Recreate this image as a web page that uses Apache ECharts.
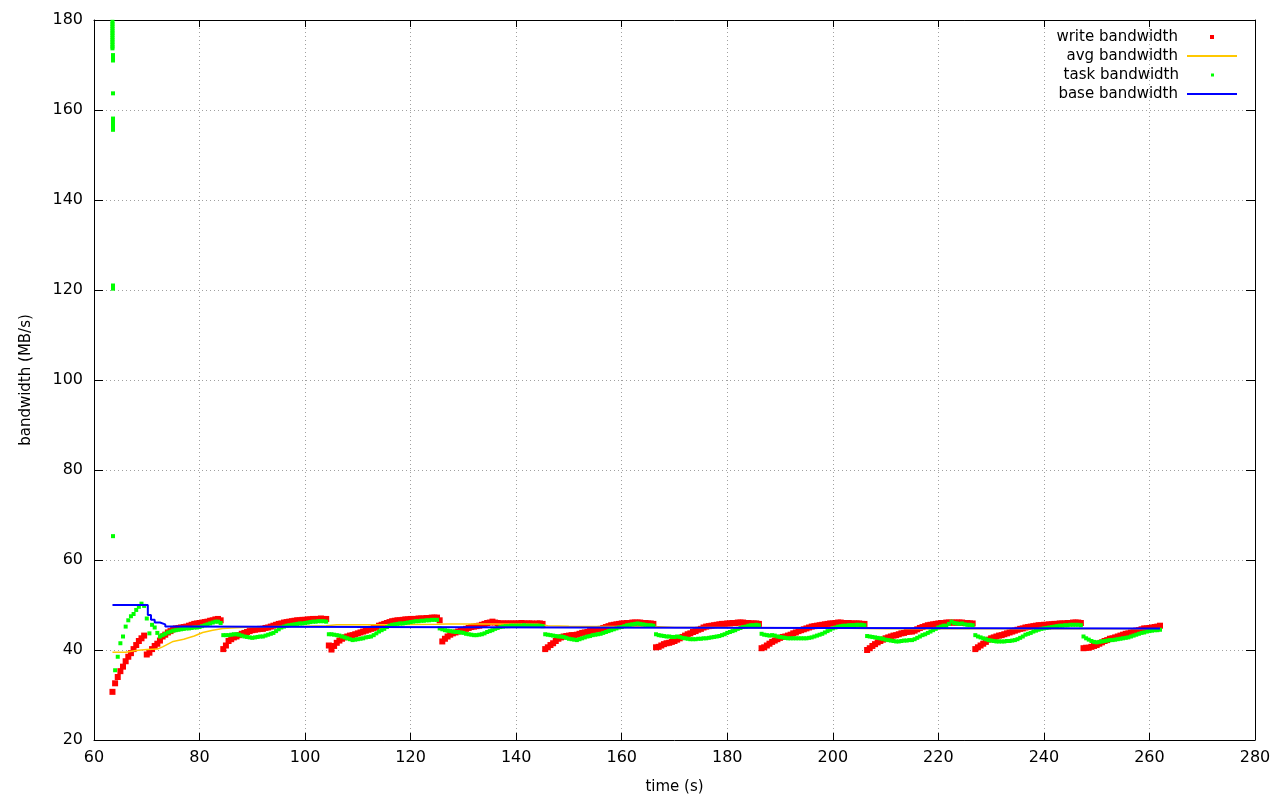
<!DOCTYPE html>
<html>
<head>
<meta charset="utf-8">
<script src="https://cdn.jsdelivr.net/npm/echarts@6/dist/echarts.min.js"></script>
<style>
html,body{margin:0;padding:0;background:#fff;}
#chart{width:1280px;height:800px;}
</style>
</head>
<body>
<div id="chart"></div>
<script>
// ---------------- data ----------------
// write bandwidth samples (MB/s), one every 0.5 s starting at t = 63.5 s
const writeStart = 63.5;
const sampleStep = 0.5;
const writeValues = [
  30.7, 32.6, 34.0, 35.3, 36.3, 37.5, 38.5, 39.3, 40.2, 41.1,
  42.0, 42.6, 43.2, 39.0, 39.4, 40.2, 40.9, 41.4, 42.1, 43.0,
  43.4, 43.9, 44.2, 44.6, 44.8, 44.9, 45.0, 45.1, 45.2, 45.4,
  45.6, 45.8, 45.9, 46.0, 46.1, 46.2, 46.3, 46.5, 46.6, 46.8,
  46.9, 46.6, 40.2, 41.0, 42.0, 42.4, 42.8, 43.0, 43.3, 43.6,
  43.8, 44.0, 44.2, 44.4, 44.5, 44.6, 44.7, 44.7, 44.9, 45.0,
  45.2, 45.4, 45.6, 45.8, 45.9, 46.1, 46.2, 46.3, 46.4, 46.5,
  46.6, 46.6, 46.7, 46.7, 46.8, 46.8, 46.9, 46.9, 46.9, 47.0,
  46.9, 46.9, 41.0, 40.1, 40.9, 41.6, 42.1, 42.5, 42.8, 43.0,
  43.2, 43.3, 43.5, 43.7, 43.9, 44.1, 44.3, 44.5, 44.7, 44.9,
  45.1, 45.4, 45.6, 45.8, 46.0, 46.2, 46.4, 46.5, 46.6, 46.6,
  46.7, 46.8, 46.8, 46.9, 46.9, 46.9, 47.0, 47.0, 47.0, 47.1,
  47.1, 47.2, 47.2, 47.2, 46.6, 41.9, 42.5, 43.0, 43.4, 43.7,
  43.9, 44.1, 44.3, 44.5, 44.7, 44.9, 45.1, 45.2, 45.3, 45.4,
  45.6, 45.8, 46.0, 46.1, 46.3, 46.1, 46.0, 45.9, 45.9, 45.9,
  45.9, 45.9, 45.9, 45.9, 45.9, 46.0, 45.9, 45.9, 45.9, 45.9,
  45.8, 45.9, 45.9, 45.8, 40.2, 40.6, 41.1, 41.5, 42.0, 42.5,
  42.8, 43.0, 43.1, 43.2, 43.3, 43.3, 43.4, 43.6, 43.8, 43.9,
  44.0, 44.2, 44.3, 44.5, 44.6, 44.7, 44.9, 45.1, 45.3, 45.5,
  45.6, 45.7, 45.8, 45.9, 45.9, 46.0, 46.0, 46.1, 46.1, 46.1,
  46.1, 46.0, 46.0, 45.9, 45.9, 45.8, 40.6, 40.7, 41.0, 41.3,
  41.5, 41.6, 41.8, 42.0, 42.3, 42.6, 42.9, 43.2, 43.5, 43.7,
  44.0, 44.2, 44.5, 44.7, 45.0, 45.2, 45.3, 45.4, 45.5, 45.6,
  45.7, 45.8, 45.8, 45.9, 45.9, 46.0, 46.0, 46.1, 46.1, 46.1,
  46.0, 46.0, 45.9, 45.9, 45.9, 45.8, 40.4, 40.6, 41.0, 41.4,
  41.8, 42.1, 42.4, 42.7, 42.9, 43.0, 43.2, 43.4, 43.7, 43.9,
  44.2, 44.4, 44.6, 44.8, 45.0, 45.2, 45.3, 45.4, 45.5, 45.6,
  45.7, 45.8, 45.9, 45.9, 46.0, 46.1, 46.1, 46.0, 46.0, 46.0,
  45.9, 45.9, 45.9, 45.9, 45.8, 45.8, 40.0, 40.4, 40.9, 41.3,
  41.7, 42.0, 42.3, 42.6, 42.8, 43.0, 43.2, 43.3, 43.5, 43.7,
  43.8, 44.0, 44.1, 44.1, 44.3, 44.6, 44.9, 45.1, 45.3, 45.5,
  45.6, 45.7, 45.8, 45.9, 46.0, 46.0, 46.1, 46.1, 46.1, 46.1,
  46.1, 46.1, 46.1, 46.0, 46.0, 45.9, 45.9, 40.2, 40.6, 41.0,
  41.4, 41.8, 42.3, 42.6, 42.8, 43.0, 43.2, 43.3, 43.5, 43.7,
  43.9, 44.1, 44.3, 44.5, 44.7, 44.8, 45.0, 45.1, 45.2, 45.3,
  45.4, 45.5, 45.5, 45.6, 45.6, 45.7, 45.7, 45.8, 45.8, 45.9,
  45.9, 45.9, 46.0, 46.0, 46.1, 46.1, 46.1, 46.0, 40.4, 40.5,
  40.5, 40.7, 40.9, 41.1, 41.4, 41.7, 42.0, 42.2, 42.5, 42.6,
  42.8, 43.0, 43.2, 43.4, 43.6, 43.7, 43.9, 44.1, 44.3, 44.4,
  44.6, 44.8, 44.8, 44.9, 45.0, 45.1, 45.2, 45.4
];

// task bandwidth samples (MB/s), one every 0.5 s starting at t = 64.0 s
const taskStart = 64.0;
const taskValues = [
  35.5, 38.5, 41.5, 43.0, 45.2, 46.6, 47.5, 48.0, 48.9, 49.6,
  50.3, 49.8, 47.0, 43.7, 45.6, 45.0, 43.8, 43.0, 43.3, 43.6,
  43.9, 44.1, 44.3, 44.4, 44.5, 44.6, 44.7, 44.8, 44.8, 44.9,
  45.0, 45.0, 45.1, 45.3, 45.5, 45.7, 45.9, 46.1, 46.3, 46.3,
  46.0, 43.3, 43.3, 43.3, 43.4, 43.5, 43.5, 43.4, 43.2, 43.0,
  42.9, 42.8, 42.7, 42.8, 42.9, 43.0, 43.0, 43.2, 43.4, 43.6,
  43.8, 44.2, 44.6, 45.0, 45.2, 45.4, 45.5, 45.6, 45.7, 45.8,
  45.9, 45.9, 46.0, 46.1, 46.2, 46.3, 46.3, 46.4, 46.4, 46.4,
  46.3, 43.5, 43.5, 43.4, 43.3, 43.2, 43.0, 42.8, 42.6, 42.4,
  42.2, 42.3, 42.4, 42.5, 42.6, 42.8, 42.9, 43.0, 43.3, 43.7,
  44.1, 44.4, 44.7, 45.1, 45.4, 45.6, 45.7, 45.8, 45.9, 45.9,
  46.0, 46.1, 46.2, 46.3, 46.4, 46.4, 46.5, 46.5, 46.6, 46.6,
  46.7, 46.7, 46.7, 44.8, 44.6, 44.4, 44.3, 44.2, 44.1, 44.0,
  44.0, 43.9, 43.8, 43.6, 43.5, 43.4, 43.3, 43.3, 43.4, 43.5,
  43.7, 44.0, 44.2, 44.4, 44.7, 44.9, 45.1, 45.2, 45.3, 45.3,
  45.4, 45.4, 45.4, 45.4, 45.4, 45.5, 45.4, 45.4, 45.4, 45.4,
  45.4, 45.4, 45.3, 43.5, 43.4, 43.3, 43.2, 43.1, 43.0, 43.0,
  42.9, 42.7, 42.5, 42.4, 42.3, 42.2, 42.4, 42.6, 42.8, 43.0,
  43.1, 43.3, 43.4, 43.5, 43.6, 43.8, 44.0, 44.2, 44.4, 44.6,
  44.8, 45.0, 45.1, 45.3, 45.5, 45.6, 45.7, 45.8, 45.9, 45.8,
  45.7, 45.6, 45.5, 45.5, 45.4, 43.5, 43.3, 43.2, 43.1, 43.0,
  43.0, 42.9, 42.9, 43.0, 42.9, 42.7, 42.6, 42.5, 42.4, 42.4,
  42.4, 42.5, 42.5, 42.6, 42.6, 42.7, 42.8, 42.9, 43.0, 43.1,
  43.3, 43.5, 43.8, 44.0, 44.2, 44.4, 44.7, 44.9, 45.1, 45.2,
  45.4, 45.5, 45.5, 45.6, 45.5, 43.6, 43.4, 43.3, 43.2, 43.3,
  43.2, 43.0, 42.9, 42.8, 42.7, 42.6, 42.6, 42.6, 42.6, 42.6,
  42.6, 42.6, 42.6, 42.7, 42.8, 43.0, 43.2, 43.4, 43.6, 43.9,
  44.2, 44.5, 44.8, 45.0, 45.2, 45.3, 45.4, 45.4, 45.5, 45.5,
  45.5, 45.6, 45.6, 45.6, 45.5, 43.1, 43.0, 42.9, 42.8, 42.7,
  42.6, 42.5, 42.3, 42.2, 42.1, 42.0, 41.9, 41.9, 42.0, 42.1,
  42.1, 42.2, 42.2, 42.4, 42.7, 43.0, 43.3, 43.5, 43.8, 44.1,
  44.4, 44.7, 45.0, 45.2, 45.4, 45.4, 45.8, 46.3, 46.0, 45.9,
  45.8, 45.9, 45.7, 45.6, 45.6, 45.5, 43.3, 43.0, 42.8, 42.6,
  42.4, 42.2, 42.1, 42.0, 41.9, 41.9, 41.9, 41.9, 42.0, 42.0,
  42.1, 42.2, 42.4, 42.7, 43.0, 43.4, 43.6, 43.8, 44.1, 44.3,
  44.5, 44.7, 44.8, 44.9, 45.0, 45.1, 45.2, 45.3, 45.4, 45.4,
  45.5, 45.5, 45.6, 45.6, 45.6, 45.6, 45.5, 43.0, 42.6, 42.3,
  42.0, 41.8, 41.7, 41.8, 41.9, 42.0, 42.1, 42.2, 42.2, 42.3,
  42.4, 42.5, 42.6, 42.7, 42.8, 43.0, 43.2, 43.4, 43.6, 43.8,
  43.9, 44.1, 44.2, 44.3, 44.4, 44.4, 44.5
];

// start-up burst of task bandwidth samples
const taskBurstTime = [
  63.5, 63.5, 63.5, 63.5, 63.5, 63.5, 63.5, 63.5, 63.5, 63.5, 63.5, 63.5, 63.5,
  63.6, 63.6, 63.6, 63.6, 63.6, 63.6, 63.6, 63.6, 63.6, 63.6, 63.6, 63.6
];
const taskBurstValue = [
  179.6, 179.1, 178.6, 178.1, 177.6, 177.1, 176.6, 176.1, 175.6, 175.1, 174.6, 174.1, 173.7,
  172.2, 171.6, 171.0, 163.7, 158.1, 157.4, 156.8, 156.1, 155.6, 121.0, 120.3, 65.3
];

// avg bandwidth line
const avgTime = [63.5, 66, 68, 70, 72, 73, 75, 77, 79, 80.6, 82.5, 84.4, 86, 90, 95, 100,
  104, 106, 115, 125, 127, 135, 144, 146, 150, 160, 166, 170, 180, 200, 210, 262];
const avgValue = [39.5, 39.5, 39.9, 40.1, 40.2, 40.7, 41.9, 42.4, 43.1, 43.9, 44.4, 44.8, 44.9, 45.1, 45.2, 45.3,
  45.4, 45.6, 45.6, 45.7, 45.8, 45.8, 45.7, 45.4, 45.3, 45.2, 45.2, 45.0, 45.0, 44.9, 44.7, 44.7];

// base bandwidth (stepped)
const baseTime = [63.5, 70.2, 70.8, 71.5, 72.5, 73.5, 75.0, 150.0, 200.0, 262.0];
const baseValue = [50.0, 47.8, 46.7, 46.1, 45.7, 45.2, 45.0, 44.9, 44.8, 44.8];

// axes
const xTicks = {min: 60, max: 280, interval: 20};
const yTicks = {min: 20, max: 180, interval: 20};
const seriesNames = ['write bandwidth', 'avg bandwidth', 'task bandwidth', 'base bandwidth'];

// ---------------- build ----------------
const writeData = writeValues.map((v, i) => [writeStart + i * sampleStep, v]);
const taskData = taskBurstTime.map((t, i) => [t, taskBurstValue[i]])
  .concat(taskValues.map((v, i) => [taskStart + i * sampleStep, v]));
const avgData = avgTime.map((t, i) => [t, avgValue[i]]);
const baseData = baseTime.map((t, i) => [t, baseValue[i]]);

const FONT = 'DejaVu Sans';
const textStyle = {fontFamily: FONT, fontSize: 15, color: '#000'};
const tickLabel = {fontFamily: FONT, fontSize: 16, color: '#000'};
const gridLine = {show: true, showMinLine: false, showMaxLine: false,
  lineStyle: {color: '#a0a0a0', type: [1, 3], width: 1}};

function legendItem(name, top, right, w, h, pad) {
  return {
    show: true, data: [name], orient: 'vertical', align: 'right',
    top: top, right: right, padding: 0, itemWidth: w, itemHeight: h,
    icon: 'rect', selectedMode: false,
    itemStyle: {borderWidth: 0, opacity: 1},
    textStyle: Object.assign({}, textStyle, {padding: [0, pad, 0, 0]})
  };
}

const chart = echarts.init(document.getElementById('chart'), null, {renderer: 'canvas'});
chart.setOption({
  animation: false,
  backgroundColor: '#fff',
  grid: {left: 94, right: 25, top: 20, bottom: 60, containLabel: false},
  legend: [
    legendItem(seriesNames[0], 29.5, 66, 4, 4, 27),
    legendItem(seriesNames[1], 48.5, 43, 50, 2, 4),
    legendItem(seriesNames[2], 67.5, 66, 3, 3, 27),
    legendItem(seriesNames[3], 86.5, 43, 50, 2, 4)
  ],
  xAxis: [{
    type: 'value', min: xTicks.min, max: xTicks.max, interval: xTicks.interval, position: 'bottom',
    name: 'time (s)', nameLocation: 'middle', nameGap: 40, nameTextStyle: textStyle,
    axisLine: {show: true, onZero: false, lineStyle: {color: '#000', width: 1}},
    axisTick: {show: true, inside: true, length: 7, lineStyle: {color: '#000'}},
    axisLabel: Object.assign({margin: 10}, tickLabel),
    splitLine: gridLine
  }, {
    type: 'value', min: xTicks.min, max: xTicks.max, interval: xTicks.interval, position: 'top',
    axisLine: {show: true, onZero: false, lineStyle: {color: '#000', width: 1}},
    axisTick: {show: true, inside: true, length: 7, lineStyle: {color: '#000'}},
    axisLabel: {show: false}, splitLine: {show: false}
  }],
  yAxis: [{
    type: 'value', min: yTicks.min, max: yTicks.max, interval: yTicks.interval, position: 'left',
    name: 'bandwidth (MB/s)', nameLocation: 'middle', nameGap: 60, nameTextStyle: textStyle,
    axisLine: {show: true, onZero: false, lineStyle: {color: '#000', width: 1}},
    axisTick: {show: true, inside: true, length: 9, lineStyle: {color: '#000'}},
    axisLabel: Object.assign({margin: 11}, tickLabel),
    splitLine: gridLine
  }, {
    type: 'value', min: yTicks.min, max: yTicks.max, interval: yTicks.interval, position: 'right',
    axisLine: {show: true, onZero: false, lineStyle: {color: '#000', width: 1}},
    axisTick: {show: true, inside: true, length: 9, lineStyle: {color: '#000'}},
    axisLabel: {show: false}, splitLine: {show: false}
  }],
  series: [{
    name: seriesNames[0], type: 'scatter', data: writeData,
    symbol: 'rect', symbolSize: 6, itemStyle: {color: '#ff0000', opacity: 1}, silent: true, z: 2
  }, {
    name: seriesNames[1], type: 'line', data: avgData, symbol: 'none', showSymbol: false,
    lineStyle: {color: '#ffc800', width: 1.5}, itemStyle: {color: '#ffc800'}, silent: true, z: 3
  }, {
    name: seriesNames[2], type: 'scatter', data: taskData,
    symbol: 'rect', symbolSize: 4, itemStyle: {color: '#00ff00', opacity: 1}, silent: true, z: 4
  }, {
    name: seriesNames[3], type: 'line', step: 'end', data: baseData, symbol: 'none', showSymbol: false,
    lineStyle: {color: '#0000ff', width: 2}, itemStyle: {color: '#0000ff'}, silent: true, z: 5
  }]
});
</script>
</body>
</html>
